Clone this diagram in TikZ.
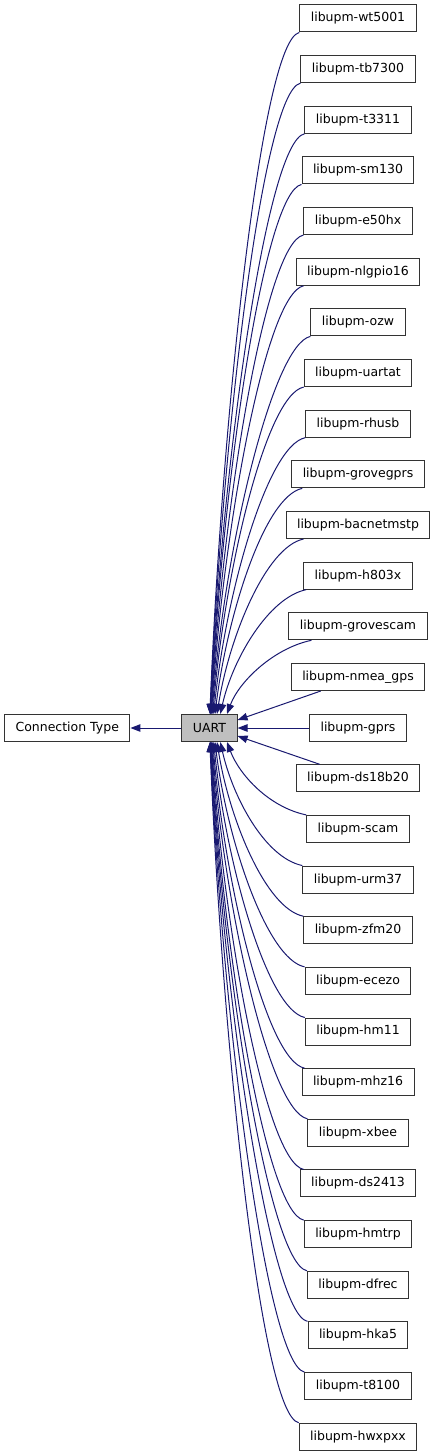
\documentclass[tikz,border=0pt]{standalone}
\usepackage{fontspec}
\setmainfont{DejaVu Sans}
\usetikzlibrary{
    positioning,
    arrows.meta
    }
\definecolor{edgeblue}{HTML}{191970}
\definecolor{boxgray}{HTML}{BFBFBF}

\begin{document}
\begin{tikzpicture}[x=1bp, y=1bp]
\tikzset{member/.style =
        {
            shape=rectangle,
            draw=black!80,
            line width=1bp,
            fill=white,
            minimum height=27bp,
            inner xsep=11bp,
            inner ysep=0pt,
            font=\fontsize{12.5bp}{14bp}\selectfont
        }
}

\tikzset{current/.style =
        {
            member,
            fill=boxgray
        }
}

\tikzset{dep/.style =
        {
            line width=1bp,
            edgeblue,
            -{Triangle[length=10bp, width=7.5bp]}
        }
}

		\useasboundingbox (0,0) rectangle (437,-1456);

		\node[current] (uart) at (209.5,-728) {UART};
		\node[member, left=51bp of uart] (conn) {Connection Type};
		\draw[dep] (uart) -- (conn);

		% users above
		\foreach \nm / \sx [count=\row from 0] in
			{wt5001/0, tb7300/0, t3311/0, sm130/0, e50hx/0, nlgpio16/8,
				ozw/0, uartat/0, rhusb/0, grovegprs/11, bacnetmstp/18, h803x/3,
				grovescam/23}
		{
			\pgfmathsetmacro\ypos{-18.5-50.65*\row}
			\pgfmathsetmacro\dd{683-50.65*\row}
			\pgfmathsetmacro\tx{40/(14-\row)-2.5}
			\node[member] (u\row) at (358,\ypos) {libupm-\nm};
			\draw[dep] ([xshift=\sx bp]u\row.south west) .. controls +(-38,-8) and +(12,0.43*\dd) .. ([xshift=\tx bp]uart.north);
		}

		% the three next to UART
		\node[member] (u13) at (358,-677) {libupm-nmea\_gps};
		\node[member] (u14) at (358,-728) {libupm-gprs};
		\node[member] (u15) at (358,-778.3) {libupm-ds18b20};
		\draw[dep] ([xshift=30bp]u13.south west) -- ([yshift=8bp]uart.east);
		\draw[dep] (u14) -- (uart);
		\draw[dep] ([xshift=24bp]u15.north west) -- ([yshift=-8bp]uart.east);

		% users below
		\foreach \nm / \sx [count=\row from 16] in
			{scam/0, urm37/0, zfm20/0, ecezo/0, hm11/0, mhz16/3, xbee/0,
				ds2413/4, hmtrp/0, dfrec/0, hka5/0, t8100/0, hwxpxx/0}
		{
			\pgfmathsetmacro\ypos{-18.5-50.65*\row}
			\pgfmathsetmacro\dd{50.65*\row-736}
			\pgfmathsetmacro\tx{40/(\row-14)-2.5}
			\node[member] (u\row) at (358,\ypos) {libupm-\nm};
			\draw[dep] ([xshift=\sx bp]u\row.north west) .. controls +(-38,8) and +(12,-0.43*\dd) .. ([xshift=\tx bp]uart.south);
		}

	\end{tikzpicture}
\end{document}
